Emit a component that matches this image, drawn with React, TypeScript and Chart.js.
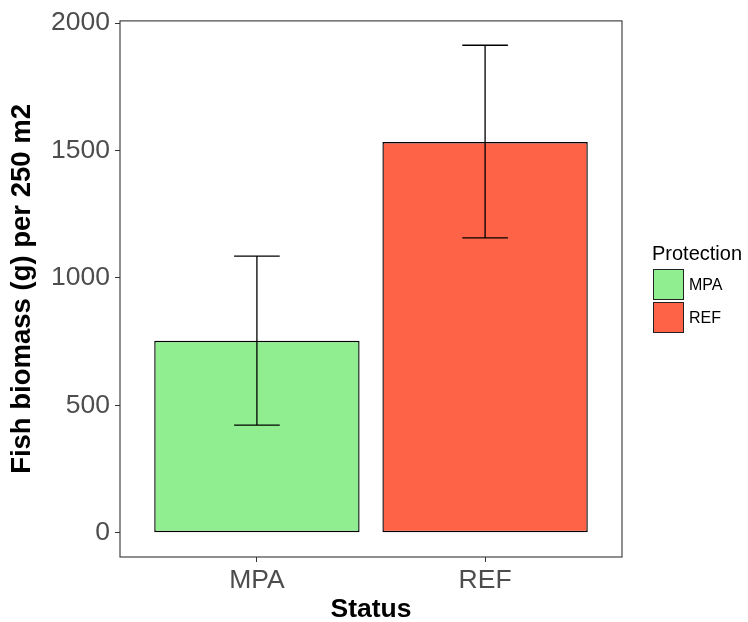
import React, { useEffect, useRef } from "react";
import { Chart, registerables } from "chart.js";

Chart.register(...registerables);

const categories = ["MPA", "REF"];
const means = [753, 1533];
const upper = [1085, 1913];
const lower = [422, 1157];
const colors = ["#90EE90", "#FF6347"];
const yTicks = [0, 500, 1000, 1500, 2000];
const yTitle = "Fish biomass (g) per 250 m2";
const xTitle = "Status";
const legendTitle = "Protection";

const FONT = "'Liberation Sans', Arial, Helvetica, sans-serif";

const errorBarPlugin = {
  id: "errorBars",
  afterDatasetsDraw(chart: any) {
    const { ctx, scales } = chart;
    const x = scales.x;
    const y = scales.y;
    ctx.save();
    ctx.strokeStyle = "#000";
    ctx.lineWidth = 1.3;
    categories.forEach((_, i) => {
      const cx = x.getPixelForValue(i + 1);
      const hw = x.getPixelForValue(i + 1 + 0.1) - cx;
      const yu = y.getPixelForValue(upper[i]);
      const yl = y.getPixelForValue(lower[i]);
      ctx.beginPath();
      ctx.moveTo(cx, yu);
      ctx.lineTo(cx, yl);
      ctx.moveTo(cx - hw, yu);
      ctx.lineTo(cx + hw, yu);
      ctx.moveTo(cx - hw, yl);
      ctx.lineTo(cx + hw, yl);
      ctx.stroke();
    });
    ctx.restore();
  },
};

const panelBorderPlugin = {
  id: "panelBorder",
  afterDraw(chart: any) {
    const { ctx, chartArea } = chart;
    ctx.save();
    ctx.strokeStyle = "#333";
    ctx.lineWidth = 1.1;
    ctx.strokeRect(
      chartArea.left,
      chartArea.top,
      chartArea.right - chartArea.left,
      chartArea.bottom - chartArea.top
    );
    ctx.restore();
  },
};

export default function App() {
  const canvasRef = useRef<HTMLCanvasElement | null>(null);

  useEffect(() => {
    if (!canvasRef.current) return;
    const chart = new Chart(canvasRef.current, {
      type: "bar",
      data: {
        datasets: [
          {
            data: categories.map((_, i) => ({ x: i + 1, y: means[i] })),
            backgroundColor: colors,
            borderColor: "#000",
            borderWidth: 1.4,
            borderSkipped: false,
            barPercentage: 0.9,
            categoryPercentage: 1,
          } as any,
        ],
      },
      options: {
        animation: false,
        responsive: false,
        maintainAspectRatio: false,
        layout: { padding: { left: 0, top: 19.5, right: 126, bottom: 0 } },
        plugins: { legend: { display: false }, tooltip: { enabled: false } },
        scales: {
          x: {
            type: "linear",
            min: 0.4,
            max: 2.6,
            offset: false,
            afterBuildTicks: (s: any) => {
              s.ticks = categories.map((_, i) => ({ value: i + 1 }));
            },
            afterFit: (s: any) => {
              s.height = 65;
            },
            ticks: {
              callback: (v: any) => categories[Math.round(Number(v)) - 1],
              font: { size: 26.5, family: FONT },
              color: "#4d4d4d",
              padding: 3,
              autoSkip: false,
              maxRotation: 0,
              minRotation: 0,
            },
            grid: {
              display: true,
              offset: false,
              drawOnChartArea: false,
              drawTicks: true,
              tickLength: 5,
              color: "#333",
            },
            border: { display: false },
            title: {
              display: true,
              text: xTitle,
              color: "#000",
              font: { size: 26.5, weight: "bold", family: FONT },
              padding: { top: 0, bottom: -4 },
            },
          },
          y: {
            type: "linear",
            min: -95.6,
            max: 2008.6,
            afterBuildTicks: (s: any) => {
              s.ticks = yTicks.map((v) => ({ value: v }));
            },
            afterFit: (s: any) => {
              s.width = 120;
            },
            ticks: {
              callback: (v: any) => String(v),
              font: { size: 26.5, family: FONT },
              color: "#4d4d4d",
              padding: 5,
            },
            grid: {
              display: true,
              drawOnChartArea: false,
              drawTicks: true,
              tickLength: 5,
              color: "#333",
            },
            border: { display: false },
            title: {
              display: true,
              text: yTitle,
              color: "#000",
              font: { size: 27.5, weight: "bold", family: FONT },
              padding: { top: 6, bottom: 0 },
            },
          },
        },
      } as any,
      plugins: [errorBarPlugin, panelBorderPlugin],
    });
    return () => chart.destroy();
  }, []);

  return (
    <div
      style={{
        position: "fixed",
        left: 0,
        top: 0,
        width: 748,
        height: 622,
        background: "#fff",
        fontFamily: FONT,
      }}
    >
      <canvas ref={canvasRef} width={748} height={622} style={{ display: "block" }} />
      <div
        style={{
          position: "absolute",
          left: 652,
          top: 243,
          fontSize: 20,
          lineHeight: "20px",
          color: "#000",
          whiteSpace: "nowrap",
        }}
      >
        {legendTitle}
      </div>
      {categories.map((c, i) => (
        <React.Fragment key={c}>
          <div
            style={{
              position: "absolute",
              left: 653,
              top: 269 + i * 32.5,
              width: 31,
              height: 31,
              boxSizing: "border-box",
              border: "1.5px solid #222",
              background: colors[i],
            }}
          />
          <div
            style={{
              position: "absolute",
              left: 689,
              top: 269 + i * 32.5,
              height: 31,
              lineHeight: "31px",
              fontSize: 16,
              color: "#000",
              whiteSpace: "nowrap",
            }}
          >
            {c}
          </div>
        </React.Fragment>
      ))}
    </div>
  );
}
